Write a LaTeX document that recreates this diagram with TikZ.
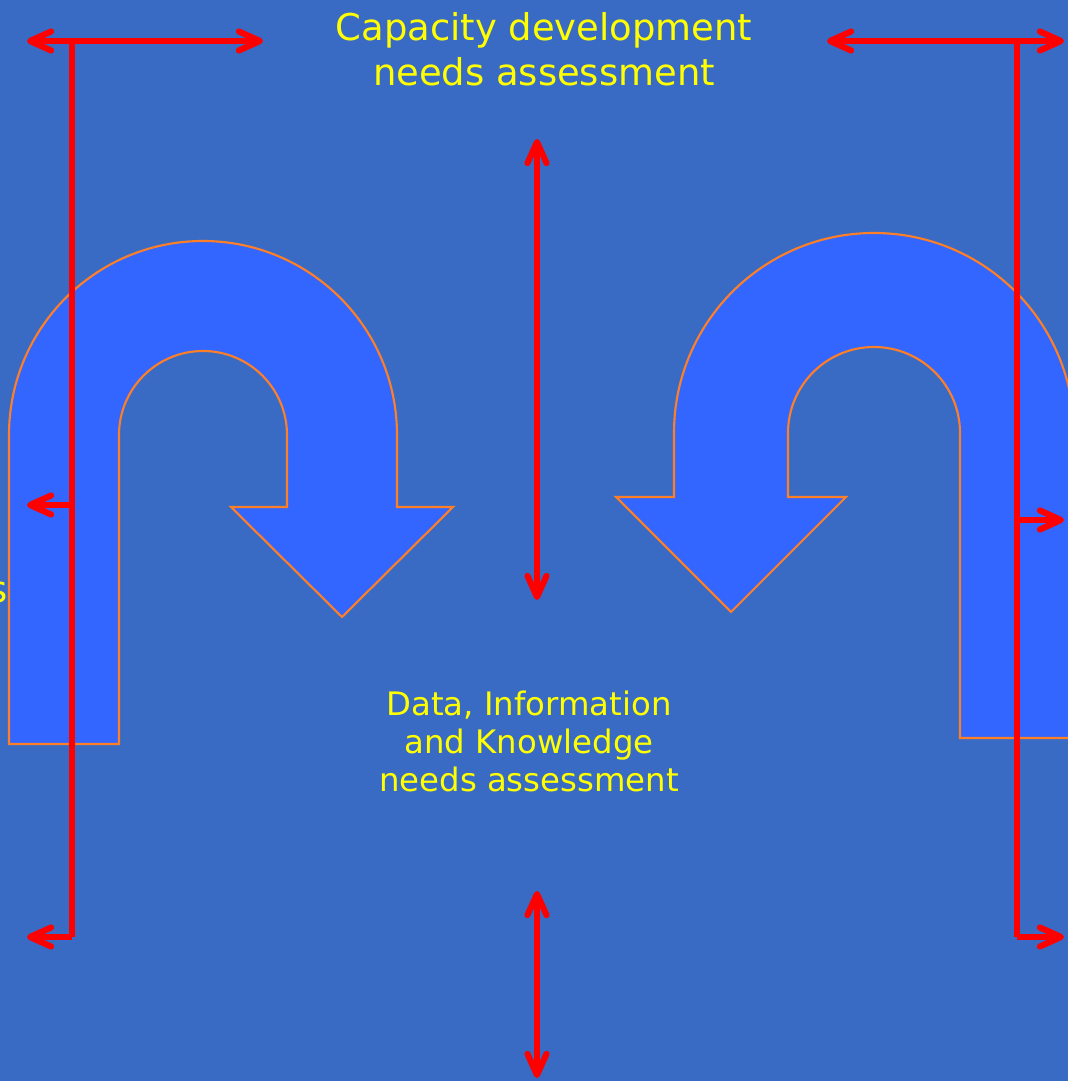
\documentclass[tikz,border=0pt]{standalone}
\usepackage{fontspec}
\setmainfont{DejaVu Sans}
\usetikzlibrary{arrows.meta}
\definecolor{bg}{HTML}{3A6BC4}
\definecolor{uturn}{HTML}{3366FF}
\definecolor{rim}{HTML}{FF7F27}
\definecolor{txt}{HTML}{FFFF00}

\begin{document}
\begin{tikzpicture}[x=0.1mm, y=0.1mm,
	turn arrow/.style={fill=uturn, draw=rim, line width=0.6pt},
	red line/.style={draw=red, line width=1.75pt},
	one way/.style={red line, -{Straight Barb[length=2.1mm,width=1.9mm,round]}},
	two way/.style={red line, {Straight Barb[length=2.1mm,width=1.9mm,round]}-{Straight Barb[length=2.1mm,width=1.9mm,round]}},
	caption text/.style={text=txt, align=center, inner sep=0pt}]
	\useasboundingbox (0,0) rectangle (1068,1081);
	\clip (0,0) rectangle (1068,1081);
	\fill[bg] (0,0) rectangle (1068,1081);
	% the two u-turns
	\draw[turn arrow] (9,337) -- (9,646) arc[start angle=180, end angle=0, radius=194]
		-- (397,574) -- (453,574) -- (342,464) -- (231,574) -- (287,574)
		-- (287,646) arc[start angle=0, end angle=180, radius=84] -- (119,337) -- cycle;
	\draw[turn arrow] (1074,343) -- (1074,648) arc[start angle=0, end angle=180, radius=200]
		-- (674,584) -- (616,584) -- (731,469) -- (846,584) -- (788,584)
		-- (788,648) arc[start angle=180, end angle=0, radius=86] -- (960,343) -- cycle;
	% texts
	\node[caption text, font=\fontsize{10.5}{12.8}\selectfont] (cap) at (544,1032) {Capacity development\\needs assessment};
	\node[caption text, font=\fontsize{9.2}{10.8}\selectfont] (dik) at (529,340) {Data, Information\\and Knowledge\\needs assessment};
	\node[caption text, font=\fontsize{10.5}{12.8}\selectfont, anchor=east] (cut) at (8,489) {s};
	% brackets
	\coordinate (L top) at (72,1040);
	\coordinate (L bot) at (72,144);
	\coordinate (R top) at (1017,1040);
	\coordinate (R bot) at (1017,144);
	\coordinate (L a) at (27,1040);
	\coordinate (L b) at (263,1040);
	\coordinate (R a) at (827,1040);
	\coordinate (R b) at (1064,1040);
	\draw[two way] (L a) -- (L b);
	\draw[two way] (R a) -- (R b);
	\draw[red line] (L top) -- (L bot);
	\draw[red line] (R top) -- (R bot);
	\coordinate (L mid) at (72,576);
	\coordinate (R mid) at (1017,561);
	\draw[one way] (L mid) -- (27,576) coordinate (L mid end);
	\draw[one way] (R mid) -- (1064,561) coordinate (R mid end);
	\draw[one way] (L bot) -- (27,144) coordinate (L bot end);
	\draw[one way] (R bot) -- (1064,144) coordinate (R bot end);
	% middle
	\coordinate (M1) at (537,942);
	\coordinate (M2) at (537,481);
	\coordinate (M3) at (537,190);
	\coordinate (M4) at (537,3);
	\draw[two way] (M1) -- (M2);
	\draw[two way] (M3) -- (M4);
\end{tikzpicture}
\end{document}
